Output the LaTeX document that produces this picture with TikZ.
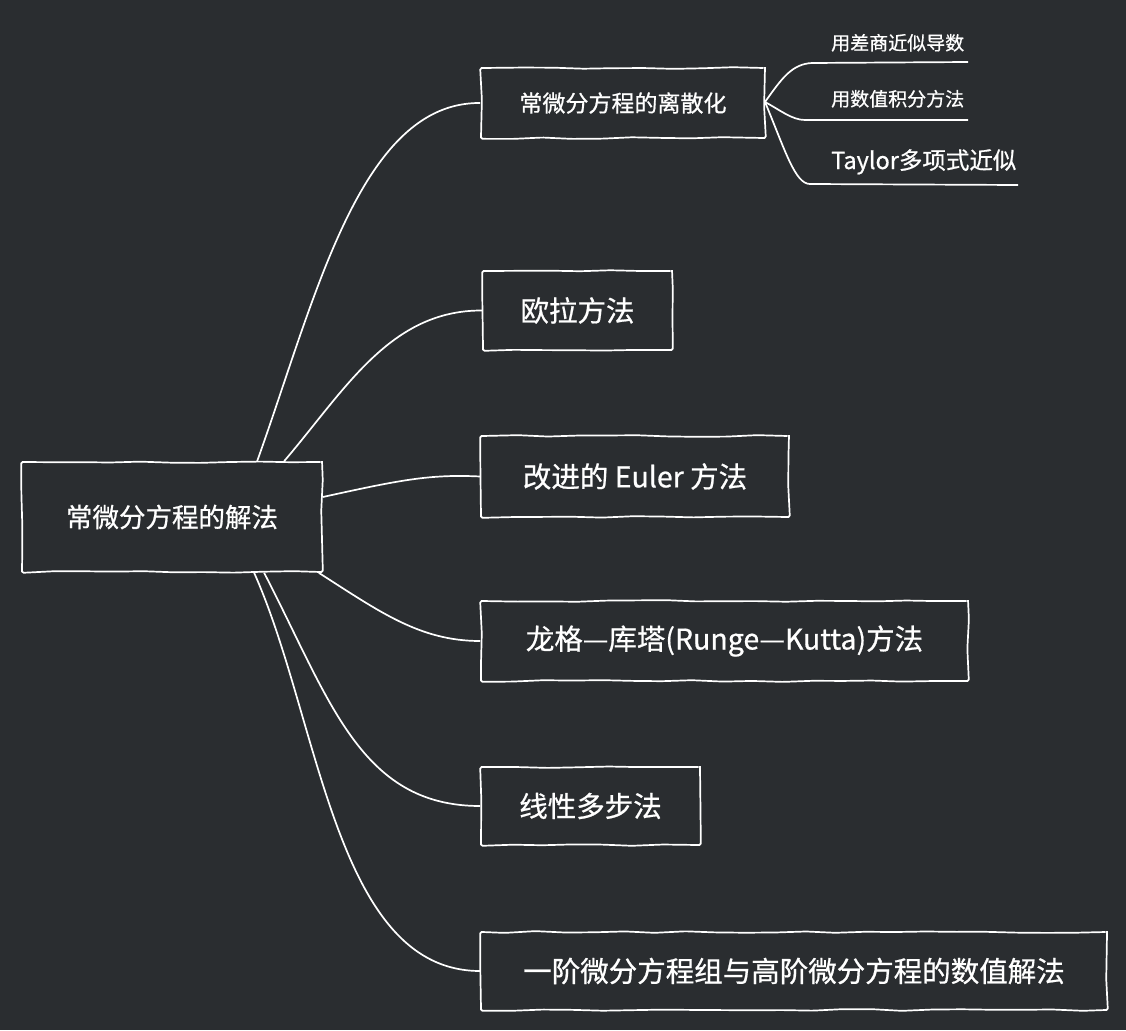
\documentclass[tikz,border=0pt]{standalone}
\usepackage{fontspec}
\setmainfont{Noto Sans CJK SC}[FakeBold=0.7]
\usetikzlibrary{decorations.pathmorphing}
\definecolor{bgc}{HTML}{2A2D30}
\tikzset{
  rough/.style={decorate, decoration={random steps, segment length=30pt, amplitude=0.9pt}},
  topic/.style={draw=white, line width=1.7pt, text=white, inner sep=0pt, rough, rounded corners=1.5pt},
  link/.style={draw=white, line width=1.7pt},
  sub/.style={text=white, inner sep=0pt, anchor=base west},
}
\newcommand{\fs}[1]{\fontsize{#1}{#1}\selectfont}
\begin{document}
\begin{tikzpicture}[x=1pt,y=-1pt]
\fill[bgc] (0,0) rectangle (1126,1030);
\useasboundingbox (0,0) rectangle (1126,1030);
\pgfmathsetseed{7}
\node[topic, minimum width=300pt, minimum height=110pt, font=\fs{26.5}] (root) at (172,517) {常微分方程的解法};
\node[topic, minimum width=284pt, minimum height=70pt, font=\fs{23}] (A) at (623,103) {常微分方程的离散化};
\node[topic, minimum width=189pt, minimum height=79pt, font=\fs{28.5}] (B) at (577.5,310.5) {欧拉方法};
\node[topic, minimum width=308pt, minimum height=81pt, font=\fs{28.5}] (C) at (635,476.5) {改进的 Euler 方法};
\node[topic, minimum width=487pt, minimum height=80pt, font=\fs{28.5}] (D) at (724.5,641) {龙格—库塔(Runge—Kutta)方法};
\node[topic, minimum width=219pt, minimum height=78pt, font=\fs{28.5}] (E) at (590.5,806) {线性多步法};
\node[topic, minimum width=626pt, minimum height=78pt, font=\fs{28.5}] (F) at (794,971) {一阶微分方程组与高阶微分方程的数值解法};
% sub topics
\node[sub, font=\fs{19}] (s1) at (831,50) {用差商近似导数};
\node[sub, font=\fs{19}] (s2) at (831,106) {用数值积分方法};
\node[sub, font=\fs{23.5}] (s3) at (831,169) {Taylor多项式近似};
\coordinate (u1a) at (812,63); \coordinate (u1b) at (968,62);
\coordinate (u2a) at (805,120); \coordinate (u2b) at (968,120);
\coordinate (u3a) at (810,184); \coordinate (u3b) at (1018,185);
\coordinate (Ae) at (765,102);
\draw[link] (Ae) .. controls (782,78) and (792,64) .. (u1a) -- (u1b);
\draw[link] (Ae) .. controls (780,110) and (792,120) .. (u2a) -- (u2b);
\draw[link] (Ae) .. controls (785,150) and (795,184) .. (u3a) -- (u3b);
% main links
\draw[link] (root.north west) ++(236,0) .. controls (315,300) and (360,102) .. (A.west);
\draw[link] (root.north west) ++(263,0) .. controls (345,390) and (390,310) .. (B.west);
\draw[link] (root.east) ++(0,-20) .. controls (400,480) and (430,474) .. (C.west);
\draw[link] (root.south east) ++(-4,0) .. controls (380,612) and (420,641) .. (D.west);
\draw[link] (root.south west) ++(243,0) .. controls (330,700) and (360,806) .. (E.west);
\draw[link] (root.south west) ++(233,0) .. controls (320,720) and (335,971) .. (F.west);
\end{tikzpicture}
\end{document}
